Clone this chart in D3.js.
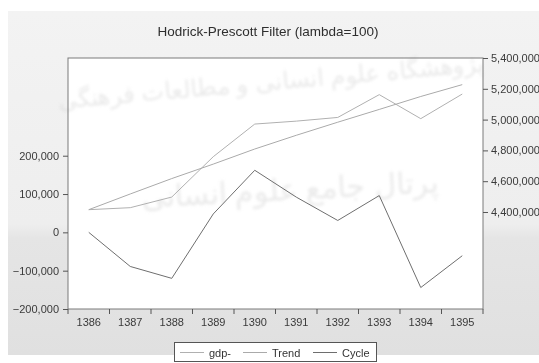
<!DOCTYPE html>
<html>
<head>
<meta charset="utf-8">
<script src="https://cdn.jsdelivr.net/npm/d3@7/dist/d3.min.js"></script>
<style>
  html, body { margin: 0; padding: 0; background: #ffffff; }
  svg { display: block; }
  text { font-family: "Liberation Sans", Arial, sans-serif; }
</style>
</head>
<body>
<svg id="chart" width="539" height="363"></svg>
<script>
// Years (Iranian calendar) on the horizontal axis
const years = ["1386", "1387", "1388", "1389", "1390", "1391", "1392", "1393", "1394", "1395"];
// Output series and its Hodrick-Prescott trend (right axis)
const gdp   = [4415000, 4428000, 4497000, 4759000, 4971000, 4990000, 5014000, 5162000, 5006000, 5166000];
const trend = [4415000, 4517000, 4617000, 4711000, 4809000, 4898000, 4983000, 5066000, 5150000, 5227000];
// Cyclical component (left axis)
const cycle = [0, -89000, -120000, 48000, 162000, 92000, 31000, 96000, -144000, -61000];
// Tick values of both vertical axes
const leftTicks  = [-200000, -100000, 0, 100000, 200000];
const rightTicks = [4400000, 4600000, 4800000, 5000000, 5200000, 5400000];
const seriesNames = ["gdp-", "Trend", "Cycle"];

const svg = d3.select("#chart");
const W = 539, H = 363;
const plot = { left: 68, right: 483, top: 58, bottom: 309 };

// Panel background
const defs = svg.append("defs");
const grad = defs.append("linearGradient").attr("id", "bg").attr("x1", 0).attr("y1", 0).attr("x2", 0).attr("y2", 1);
grad.append("stop").attr("offset", "0").attr("stop-color", "#f3f3f3");
grad.append("stop").attr("offset", "0.62").attr("stop-color", "#eeeeee");
grad.append("stop").attr("offset", "0.66").attr("stop-color", "#e5e5e5");
grad.append("stop").attr("offset", "1").attr("stop-color", "#e0e0e0");
defs.append("filter").attr("id", "soft").append("feGaussianBlur").attr("stdDeviation", 1.4);

svg.append("rect").attr("x", 8).attr("y", 11).attr("width", W - 8).attr("height", 344).attr("fill", "url(#bg)");
svg.append("rect").attr("x", plot.left).attr("y", plot.top)
  .attr("width", plot.right - plot.left).attr("height", plot.bottom - plot.top).attr("fill", "#ffffff");

// Faint institutional watermark
const wm = svg.append("g").attr("filter", "url(#soft)").attr("fill", "#d9d9d9").attr("opacity", 0.55)
  .style("font-family", "'DejaVu Sans', sans-serif");
wm.append("text").attr("transform", "translate(272,90) rotate(-5)").attr("text-anchor", "middle")
  .attr("font-size", 24).text("پژوهشگاه علوم انسانی و مطالعات فرهنگی");
wm.append("text").attr("transform", "translate(290,200) rotate(-3)").attr("text-anchor", "middle")
  .attr("font-size", 30).text("پرتال جامع علوم انسانی");

// Scales
const x = d3.scaleBand().domain(years).range([plot.left, plot.right]);
const yL = d3.scaleLinear().domain([-200000, 455000]).range([plot.bottom, plot.top]);
const yR = d3.scaleLinear().domain([3770000, 5400000]).range([plot.bottom, plot.top]);
const cx = d => x(d) + x.bandwidth() / 2;

// Lines
const lineR = d3.line().x((d, i) => cx(years[i])).y(d => yR(d));
const lineL = d3.line().x((d, i) => cx(years[i])).y(d => yL(d));
const colors = { gdp: "#b0b0b0", trend: "#aaaaaa", cycle: "#6e6e6e" };

svg.append("path").datum(gdp).attr("d", lineR).attr("fill", "none").attr("stroke", colors.gdp).attr("stroke-width", 1);
svg.append("path").datum(trend).attr("d", lineR).attr("fill", "none").attr("stroke", colors.trend).attr("stroke-width", 1);
svg.append("path").datum(cycle).attr("d", lineL).attr("fill", "none").attr("stroke", colors.cycle).attr("stroke-width", 1);

// Plot frame
svg.append("rect").attr("x", plot.left).attr("y", plot.top)
  .attr("width", plot.right - plot.left).attr("height", plot.bottom - plot.top)
  .attr("fill", "none").attr("stroke", "#7a7a7a").attr("stroke-width", 1);

const fmt = d3.format(",");
const styleAxis = g => {
  g.select(".domain").remove();
  g.selectAll(".tick line").attr("stroke", "#555");
  g.selectAll(".tick text").attr("fill", "#3a3a3a").attr("font-size", 11)
    .style("font-family", "'Liberation Sans', Arial, sans-serif");
};

// Left axis
svg.append("g").attr("transform", `translate(${plot.left},0)`)
  .call(d3.axisLeft(yL).tickValues(leftTicks).tickFormat(fmt).tickSize(5).tickPadding(4))
  .call(styleAxis);

// Right axis
svg.append("g").attr("transform", `translate(${plot.right},0)`)
  .call(d3.axisRight(yR).tickValues(rightTicks).tickFormat(fmt).tickSize(5).tickPadding(3))
  .call(styleAxis);

// Bottom axis: ticks on band boundaries, labels centred in bands
const xAxis = svg.append("g").attr("transform", `translate(0,${plot.bottom})`)
  .call(d3.axisBottom(x).tickSize(0).tickPadding(9));
styleAxis(xAxis);
const bounds = years.map(d => x(d)).concat([plot.right]);
xAxis.selectAll("line.bound").data(bounds).join("line").attr("class", "bound")
  .attr("x1", d => d).attr("x2", d => d).attr("y1", 0).attr("y2", 5).attr("stroke", "#555");

// Title
svg.append("text").attr("x", 268).attr("y", 36).attr("text-anchor", "middle")
  .attr("font-size", 13.5).attr("fill", "#2e2e2e").text("Hodrick-Prescott Filter (lambda=100)");

// Legend
const lg = svg.append("g");
lg.append("rect").attr("x", 174.5).attr("y", 342.5).attr("width", 202).attr("height", 19)
  .attr("fill", "#ffffff").attr("stroke", "#555");
const legendItems = [
  { name: seriesNames[0], color: colors.gdp, x0: 180 },
  { name: seriesNames[1], color: colors.trend, x0: 243 },
  { name: seriesNames[2], color: colors.cycle, x0: 313 }
];
legendItems.forEach(it => {
  lg.append("line").attr("x1", it.x0).attr("x2", it.x0 + 24).attr("y1", 352.5).attr("y2", 352.5)
    .attr("stroke", it.color).attr("stroke-width", 1);
  lg.append("text").attr("x", it.x0 + 29).attr("y", 356.5).attr("font-size", 11)
    .attr("fill", "#333").text(it.name);
});
</script>
</body>
</html>
